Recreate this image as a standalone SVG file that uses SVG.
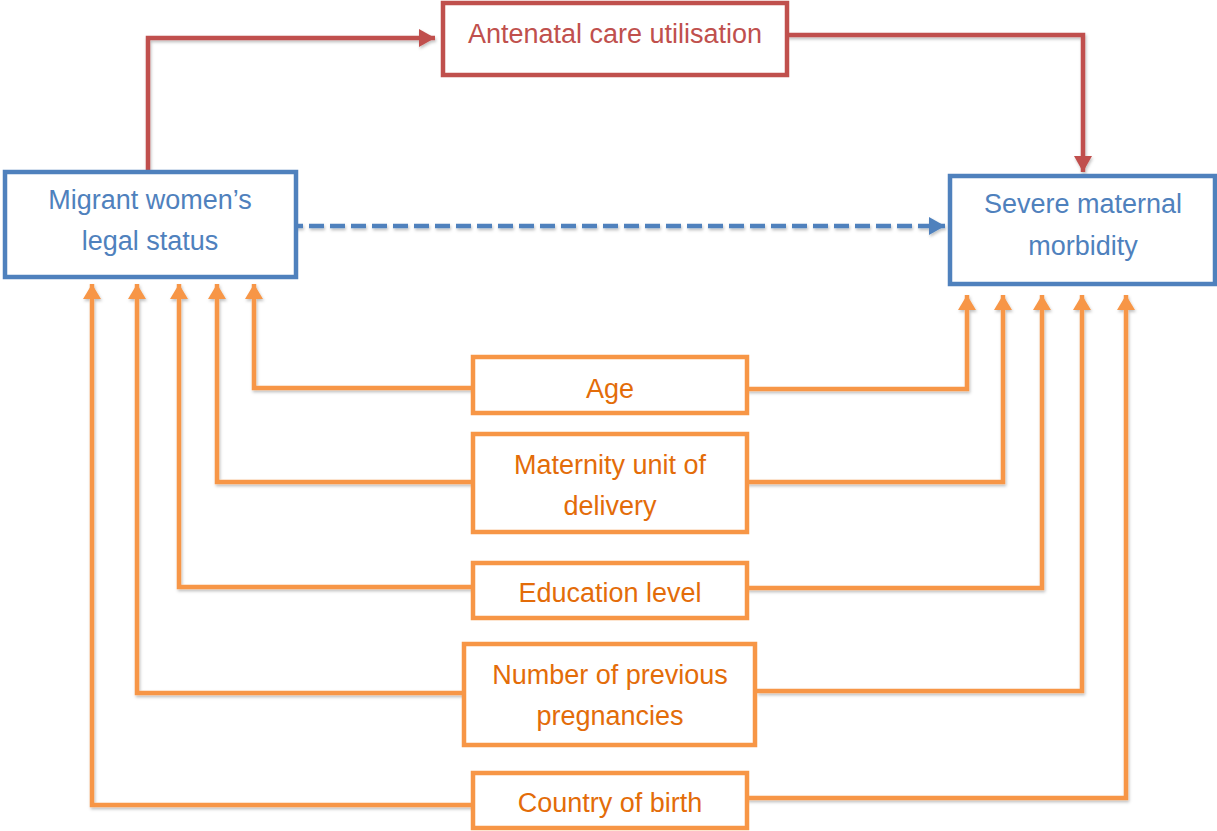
<svg xmlns="http://www.w3.org/2000/svg" width="1217" height="831" viewBox="0 0 1217 831">
<style>
.box{fill:#fff;stroke-width:4.5}
.blue{stroke:#4F81BD}
.red{stroke:#C0504D}
.orange{stroke:#F79646}
.t{font-family:"Liberation Sans",Arial,sans-serif;font-size:27px;text-anchor:middle}
.tb{fill:#4F81BD}
.tr{fill:#C0504D}
.to{fill:#E36C09}
.c{fill:none;stroke-width:4.5;stroke-linejoin:miter}
</style>
<defs>
<filter id="sh" x="-5%" y="-5%" width="110%" height="120%">
<feDropShadow dx="1" dy="2" stdDeviation="1.5" flood-color="#000" flood-opacity="0.25"/>
</filter>
<marker id="aRed" markerUnits="userSpaceOnUse" markerWidth="20" markerHeight="20" refX="16" refY="9" orient="auto">
<path d="M0,0 L16,9 L0,18 Z" fill="#C0504D"/>
</marker>
<marker id="aBlue" markerUnits="userSpaceOnUse" markerWidth="20" markerHeight="20" refX="16" refY="9" orient="auto">
<path d="M0,0 L16,9 L0,18 Z" fill="#4F81BD"/>
</marker>
<marker id="aOr" markerUnits="userSpaceOnUse" markerWidth="20" markerHeight="20" refX="15" refY="9" orient="auto">
<path d="M0,0 L15,9 L0,18 Z" fill="#F79646"/>
</marker>
</defs>

<g id="connectors" filter="url(#sh)">
<path class="c red" d="M148,170 V38 H435" marker-end="url(#aRed)"/>
<path class="c red" d="M787,35 H1083 V172" marker-end="url(#aRed)"/>
<path class="c blue" d="M288,226 H945" stroke-width="5" stroke-dasharray="15,6" marker-end="url(#aBlue)"/>
<path class="c orange" d="M473,388 H254 V284" marker-end="url(#aOr)"/>
<path class="c orange" d="M473,482 H217 V284" marker-end="url(#aOr)"/>
<path class="c orange" d="M473,587 H179 V284" marker-end="url(#aOr)"/>
<path class="c orange" d="M464,693 H137 V284" marker-end="url(#aOr)"/>
<path class="c orange" d="M473,805 H92 V284" marker-end="url(#aOr)"/>
<path class="c orange" d="M747,389 H967 V295" marker-end="url(#aOr)"/>
<path class="c orange" d="M747,482 H1003 V295" marker-end="url(#aOr)"/>
<path class="c orange" d="M747,588 H1042 V295" marker-end="url(#aOr)"/>
<path class="c orange" d="M757,691 H1082 V295" marker-end="url(#aOr)"/>
<path class="c orange" d="M747,798 H1126 V295" marker-end="url(#aOr)"/>
</g>

<g id="migrant">
<rect class="box blue" x="5" y="172" width="291" height="105"/>
<text class="t tb" x="150" y="209">Migrant women’s</text>
<text class="t tb" x="150" y="250">legal status</text>
</g>

<g id="antenatal">
<rect class="box red" x="443" y="3" width="344" height="72"/>
<text class="t tr" x="615" y="43">Antenatal care utilisation</text>
</g>

<g id="severe">
<rect class="box blue" x="950" y="176" width="265" height="108"/>
<text class="t tb" x="1083" y="213">Severe maternal</text>
<text class="t tb" x="1083" y="255">morbidity</text>
</g>

<g id="age">
<rect class="box orange" x="473" y="357" width="274" height="56"/>
<text class="t to" x="610" y="398">Age</text>
</g>

<g id="maternity">
<rect class="box orange" x="473" y="434" width="274" height="98"/>
<text class="t to" x="610" y="474">Maternity unit of</text>
<text class="t to" x="610" y="515">delivery</text>
</g>

<g id="education">
<rect class="box orange" x="473" y="563" width="274" height="55"/>
<text class="t to" x="610" y="602">Education level</text>
</g>

<g id="pregnancies">
<rect class="box orange" x="464" y="644" width="291" height="101"/>
<text class="t to" x="610" y="684">Number of previous</text>
<text class="t to" x="610" y="725">pregnancies</text>
</g>

<g id="country">
<rect class="box orange" x="473" y="773" width="274" height="55"/>
<text class="t to" x="610" y="812">Country of birth</text>
</g>
</svg>
